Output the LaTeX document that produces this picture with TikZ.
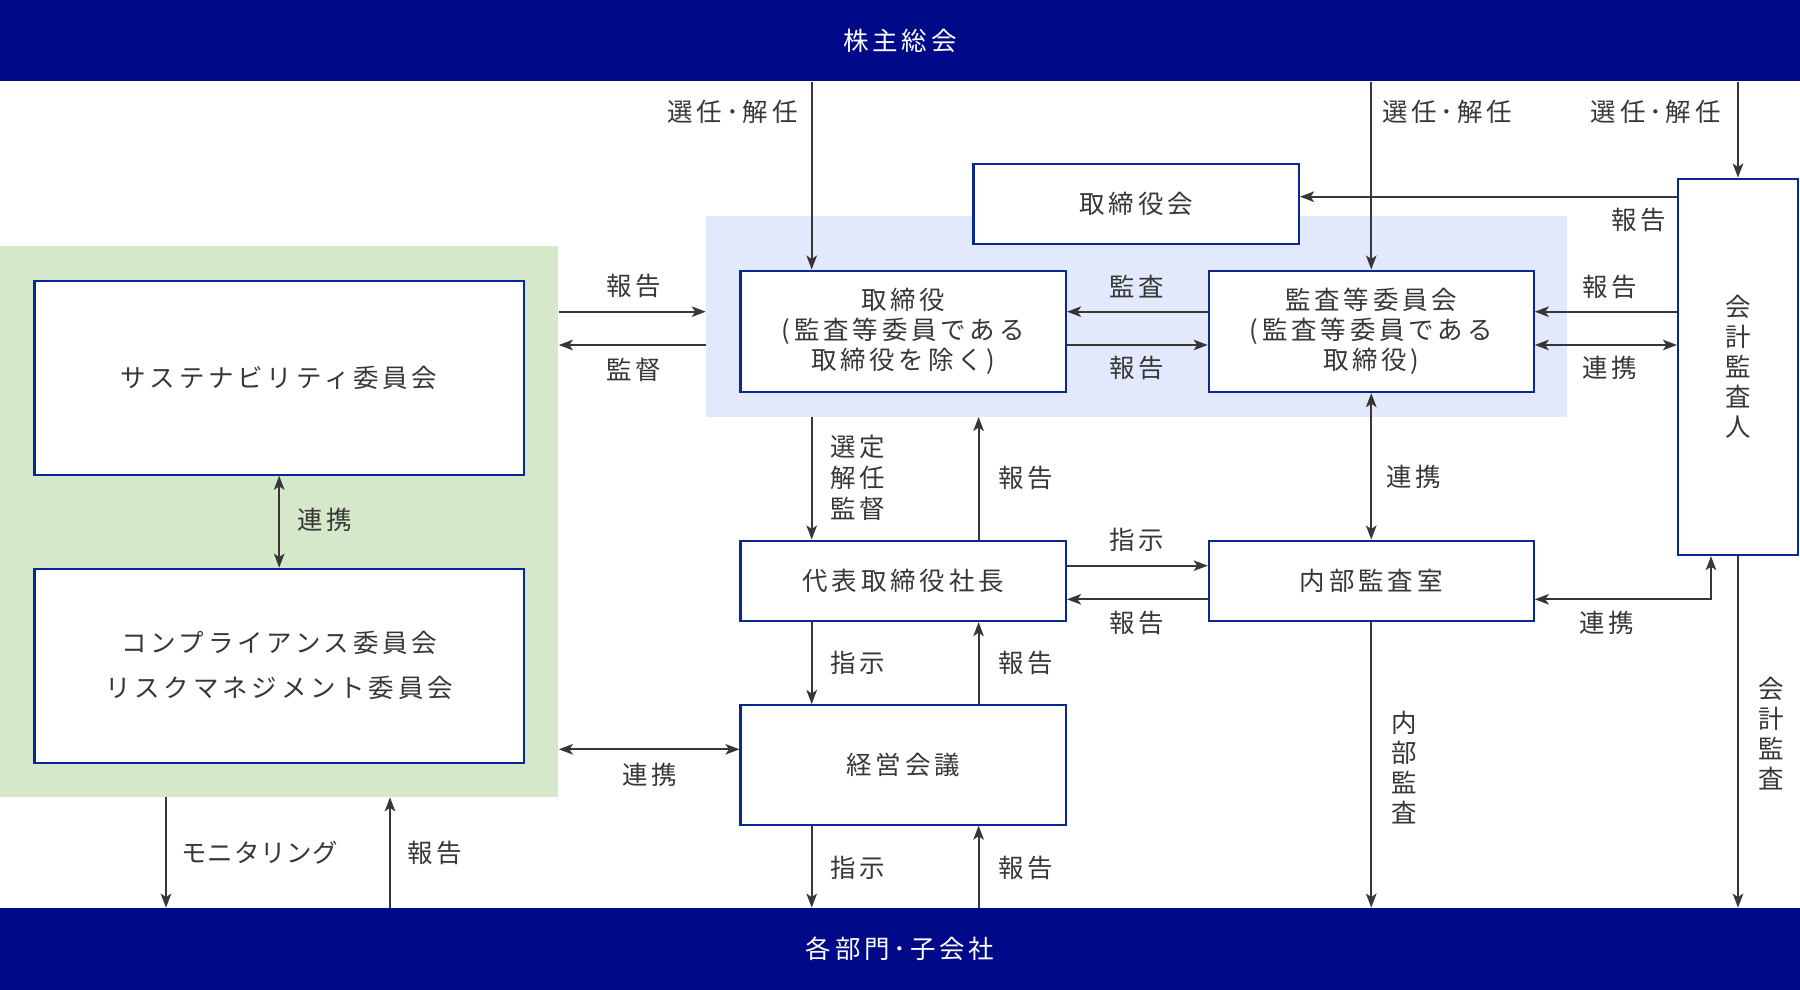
\documentclass[tikz,border=0pt]{standalone}
\usepackage{fontspec}
\setmainfont{Noto Sans CJK JP}[LetterSpace=15]
\usetikzlibrary{arrows.meta}
\definecolor{bandblue}{RGB}{0,10,136}
\definecolor{boxblue}{RGB}{10,40,145}
\definecolor{greenbg}{RGB}{213,232,201}
\definecolor{bluebg}{RGB}{227,233,252}
\definecolor{ink}{RGB}{55,55,55}
\begin{document}
\begin{tikzpicture}[x=0.02cm, y=-0.02cm,
    font=\fontsize{14.5pt}{17pt}\selectfont,
    band/.style={fill=bandblue, text=white, minimum width=36cm, minimum height=1.63cm, inner sep=0pt},
    zone/.style={inner sep=0pt},
    box/.style={draw=boxblue, line width=1.2pt, fill=white, text=ink, align=center, inner sep=0pt},
    arr/.style={draw=ink, line width=1.1pt, -{Stealth[length=8pt,width=6pt,inset=2pt]}},
    both/.style={arr, {Stealth[length=8pt,width=6pt,inset=2pt]}-{Stealth[length=8pt,width=6pt,inset=2pt]}},
    lbl/.style={text=ink, inner sep=0pt, align=center}]
  \useasboundingbox (0,0) rectangle (1800,990);
  % bands and back zones
  \node[band] (top) at (900,40.5) {株主総会};
  \node[band, minimum height=1.64cm] (bot) at (900,949) {各部門･子会社};
  \node[zone, fill=greenbg, minimum width=11.17cm, minimum height=11.02cm] (green) at (279.3,521.5) {};
  \node[zone, fill=bluebg, minimum width=17.23cm, minimum height=4.01cm] (blue) at (1136.8,316.35) {};
  % boxes
  \node[box, minimum width=9.79cm, minimum height=3.88cm] (sus) at (279.2,377.7) {サステナビリティ委員会};
  \node[box, minimum width=9.79cm, minimum height=3.88cm, font=\fontsize{14.5pt}{25.5pt}\selectfont] (comp) at (279.2,665.7)
    {コンプライアンス委員会\\リスクマネジメント委員会};
  \node[box, minimum width=6.51cm, minimum height=1.6cm] (bod) at (1136.25,204) {取締役会};
  \node[box, minimum width=6.51cm, minimum height=2.43cm] (dir) at (903.25,331.35)
    {取締役\\(監査等委員である\\取締役を除く)};
  \node[box, minimum width=6.5cm, minimum height=2.43cm] (acb) at (1371.25,331.35)
    {監査等委員会\\(監査等委員である\\取締役)};
  \node[box, minimum width=2.4cm, minimum height=7.53cm] (aud) at (1738,366.85) {会\\計\\監\\査\\人};
  \node[box, minimum width=6.51cm, minimum height=1.61cm] (ceo) at (903.25,580.85) {代表取締役社長};
  \node[box, minimum width=6.51cm, minimum height=2.39cm] (mgmt) at (903.25,764.85) {経営会議};
  \node[box, minimum width=6.5cm, minimum height=1.61cm] (iad) at (1371.25,580.85) {内部監査室};
  % columns and rows
  \coordinate (cL) at (811.7,0);
  \coordinate (cR) at (978.6,0);
  \coordinate (cX) at (1711,0);
  \coordinate (cM) at (166,0);
  \coordinate (cH) at (390,0);
  \coordinate (r0) at (0,196.7);
  \coordinate (r1) at (0,311.7);
  \coordinate (r2) at (0,345);
  \coordinate (rA) at (0,565.7);
  \coordinate (rB) at (0,599.3);
  \coordinate (rC) at (0,749.3);
  % connectors
  \draw[arr] (top.south -| cL) -- (dir.north -| cL);
  \draw[arr] (top.south -| acb.north) -- (acb.north);
  \draw[arr] (top.south -| aud.north) -- (aud.north);
  \draw[arr] (aud.west |- r0) -- (bod.east |- r0);
  \draw[arr] (aud.west |- r1) -- (acb.east |- r1);
  \draw[both] (aud.west |- r2) -- (acb.east |- r2);
  \draw[arr] (acb.west |- r1) -- (dir.east |- r1);
  \draw[arr] (dir.east |- r2) -- (acb.west |- r2);
  \draw[arr] (green.east |- r1) -- (blue.west |- r1);
  \draw[arr] (blue.west |- r2) -- (green.east |- r2);
  \draw[arr] (blue.south -| cL) -- (ceo.north -| cL);
  \draw[arr] (ceo.north -| cR) -- (blue.south -| cR);
  \draw[both] (acb.south) -- (iad.north);
  \draw[arr] (ceo.east |- rA) -- (iad.west |- rA);
  \draw[arr] (iad.west |- rB) -- (ceo.east |- rB);
  \draw[both] (iad.east |- rB) -| (cX |- aud.south);
  \draw[arr] (ceo.south -| cL) -- (mgmt.north -| cL);
  \draw[arr] (mgmt.north -| cR) -- (ceo.south -| cR);
  \draw[arr] (mgmt.south -| cL) -- (bot.north -| cL);
  \draw[arr] (bot.north -| cR) -- (mgmt.south -| cR);
  \draw[arr] (iad.south) -- (bot.north -| iad.south);
  \draw[arr] (aud.south) -- (bot.north -| aud.south);
  \draw[both] (green.east |- rC) -- (mgmt.west |- rC);
  \draw[arr] (green.south -| cM) -- (bot.north -| cM);
  \draw[arr] (bot.north -| cH) -- (green.south -| cH);
  \draw[both] (sus.south) -- (comp.north);
  % labels
  \node[lbl, anchor=east] (sel1) at (798,111.7) {選任･解任};
  \node[lbl, anchor=west] (sel2) at (1382,111.7) {選任･解任};
  \node[lbl, anchor=east] (sel3) at (1721,111.7) {選任･解任};
  \node[lbl] (rep1) at (1639,220) {報告};
  \node[lbl] (rep2) at (1610,286.7) {報告};
  \node[lbl] (lnk1) at (1610,368) {連携};
  \node[lbl] (chk) at (1137,287) {監査};
  \node[lbl] (rep3) at (1137,368) {報告};
  \node[lbl] (rep4) at (634,286) {報告};
  \node[lbl] (sup) at (634,370) {監督};
  \node[lbl, font=\fontsize{14.5pt}{17.6pt}\selectfont] (appt) at (857.5,477.6) {選定\\解任\\監督};
  \node[lbl] (rep5) at (1026,477.6) {報告};
  \node[lbl] (lnk2) at (1414,477) {連携};
  \node[lbl] (ord1) at (1137,540) {指示};
  \node[lbl] (rep6) at (1137,623) {報告};
  \node[lbl] (lnk3) at (1607,622.7) {連携};
  \node[lbl] (ord2) at (857.5,663) {指示};
  \node[lbl] (rep7) at (1026,663) {報告};
  \node[lbl] (ord3) at (857.5,868) {指示};
  \node[lbl] (rep8) at (1026,868) {報告};
  \node[lbl] (ia) at (1404,767.5) {内\\部\\監\\査};
  \node[lbl] (aa) at (1771,733.5) {会\\計\\監\\査};
  \node[lbl] (lnk4) at (650,775) {連携};
  \node[lbl, font=\fontsize{14.5pt}{17pt}\selectfont\addfontfeatures{LetterSpace=3}] (mon) at (260,853) {モニタリング};
  \node[lbl] (rep9) at (435,853) {報告};
  \node[lbl] (lnk5) at (324.5,520) {連携};
\end{tikzpicture}
\end{document}
